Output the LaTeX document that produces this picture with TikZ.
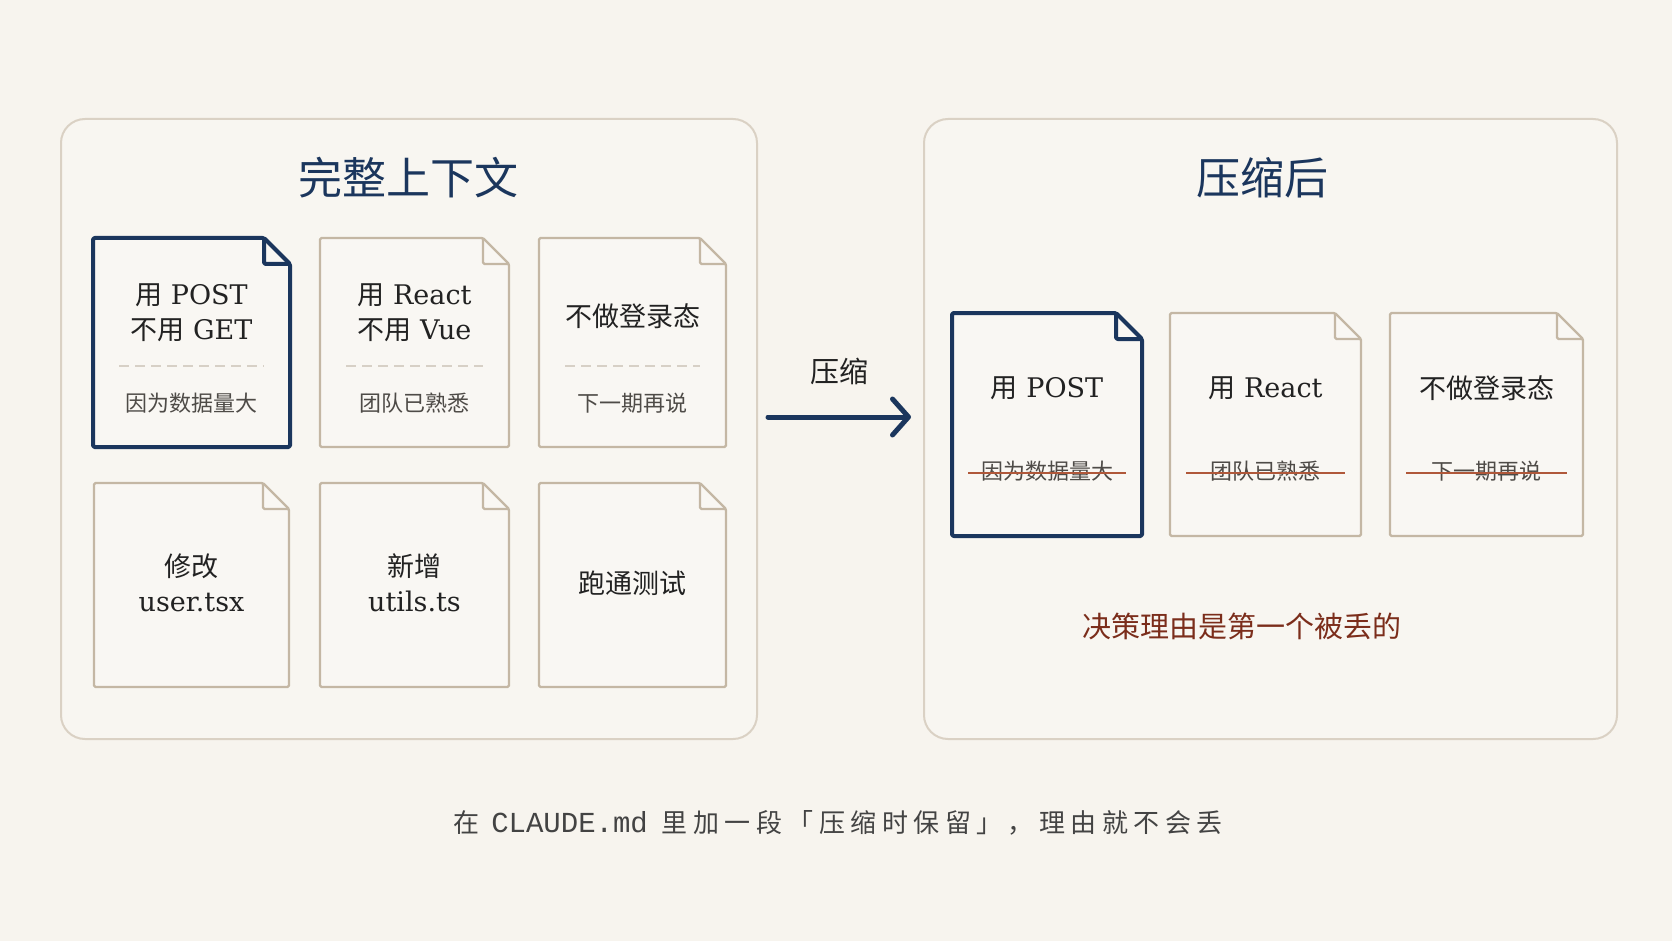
\documentclass[tikz,border=0pt]{standalone}
\usepackage{fontspec}
\setmainfont{DejaVu Serif}
\setmonofont{Liberation Mono}
\newfontfamily\cjk{Noto Sans CJK SC}
\newfontfamily\cjkwide[LetterSpace=21]{Noto Sans CJK SC}
\usetikzlibrary{arrows.meta,positioning}

\definecolor{bgcol}{HTML}{F7F4EE}
\definecolor{panelfill}{HTML}{F8F6F1}
\definecolor{panelline}{HTML}{DAD1C4}
\definecolor{docfill}{HTML}{F9F7F3}
\definecolor{docline}{HTML}{C4B7A4}
\definecolor{navy}{HTML}{1B365D}
\definecolor{inkcol}{HTML}{222222}
\definecolor{subcol}{HTML}{4E4B47}
\definecolor{dashcol}{HTML}{D7D0C6}
\definecolor{strikecol}{HTML}{B0583A}
\definecolor{rustcol}{HTML}{7B2D1B}

\tikzset{
  panel/.style={draw=panelline, line width=2pt, fill=panelfill, rounded corners=24pt, inner sep=0pt, outer sep=0pt},
  slot/.style={inner sep=0pt, outer sep=0pt},
  keydoc/.style={draw=navy, line width=4pt, fill=docfill, line join=round, rounded corners=1.5pt},
  plaindoc/.style={draw=docline, line width=2.4pt, fill=docfill, line join=round, rounded corners=1.5pt},
  heading/.style={text=navy, font=\fontsize{44}{50}\selectfont\cjk},
  maintxt/.style={text=inkcol, align=center, font=\fontsize{27}{35}\selectfont},
  subtxt/.style={text=subcol, font=\fontsize{22}{26}\selectfont\cjk},
  sepline/.style={draw=dashcol, line width=1.3pt, dash pattern=on 10pt off 6pt},
  strike/.style={draw=strikecol, line width=2pt},
  flowarrow/.style={draw=navy, line width=5pt, line cap=round, -{Straight Barb[length=16pt,width=36pt,round]}}
}

\begin{document}
\begin{tikzpicture}[x=1pt, y=-1pt]
  \useasboundingbox (0,0) rectangle (1672,941);
  \fill[bgcol] (0,0) rectangle (1672,941);

  % two panels
  \node[panel, minimum width=696pt, minimum height=620pt] (full) at (409,429) {};
  \node[panel, minimum width=693pt, minimum height=620pt] (packed) at (1270.5,429) {};
  \node[heading] (fullT) at (408,178) {完整上下文};
  \node[heading] (packedT) at (1262,178) {压缩后};

  % doc slots, left panel
  \node[slot, minimum width=197pt, minimum height=209pt] (a1) at (191.5,342.5) {};
  \node[slot, minimum width=189pt, minimum height=209pt] (a2) at (414.5,342.5) {};
  \node[slot, minimum width=187pt, minimum height=209pt] (a3) at (632.5,342.5) {};
  \node[slot, minimum width=195pt, minimum height=204pt] (b1) at (191.5,585) {};
  \node[slot, minimum width=189pt, minimum height=204pt] (b2) at (414.5,585) {};
  \node[slot, minimum width=187pt, minimum height=204pt] (b3) at (632.5,585) {};
  % doc slots, right panel
  \node[slot, minimum width=190pt, minimum height=223pt] (c1) at (1047,424.5) {};
  \node[slot, minimum width=191pt, minimum height=223pt] (c2) at (1265.5,424.5) {};
  \node[slot, minimum width=193pt, minimum height=223pt] (c3) at (1486.5,424.5) {};

  \foreach \d/\s in {a1/keydoc,a2/plaindoc,a3/plaindoc,b1/plaindoc,b2/plaindoc,b3/plaindoc,c1/keydoc,c2/plaindoc,c3/plaindoc} {
    \draw[\s] (\d.north west) -- ([xshift=-26pt]\d.north east) -- ([yshift=-26pt]\d.north east)
      -- (\d.south east) -- (\d.south west) -- cycle;
    \draw[\s, fill=none] ([xshift=-26pt]\d.north east) |- ([yshift=-26pt]\d.north east);
  }

  % full context
  \node[maintxt] (a1t) at ([yshift=30pt]a1.center) {{\cjk 用} POST\\{\cjk 不用} GET};
  \node[maintxt] (a2t) at ([yshift=30pt]a2.center) {{\cjk 用} React\\{\cjk 不用} Vue};
  \node[maintxt] (a3t) at ([yshift=26pt]a3.center) {\cjk 不做登录态};
  \foreach \d in {a1,a2,a3}
    \draw[sepline] ([xshift=26pt,yshift=-23.5pt]\d.west) -- ([xshift=-26pt,yshift=-23.5pt]\d.east);
  \node[subtxt] (a1s) at ([yshift=-60.5pt]a1.center) {因为数据量大};
  \node[subtxt] (a2s) at ([yshift=-60.5pt]a2.center) {团队已熟悉};
  \node[subtxt] (a3s) at ([yshift=-60.5pt]a3.center) {下一期再说};
  \node[maintxt] (b1t) at ([yshift=2.5pt]b1.center) {{\cjk 修改}\\user.tsx};
  \node[maintxt] (b2t) at ([yshift=2.5pt]b2.center) {{\cjk 新增}\\utils.ts};
  \node[maintxt] (b3t) at ([yshift=2pt]b3.center) {\cjk 跑通测试};

  % compressed
  \node[maintxt] (c1t) at ([yshift=36.5pt]c1.center) {{\cjk 用} POST};
  \node[maintxt] (c2t) at ([yshift=36.5pt]c2.center) {{\cjk 用} React};
  \node[maintxt] (c3t) at ([yshift=36.5pt]c3.center) {\cjk 不做登录态};
  \node[subtxt] (c1s) at ([yshift=-46.5pt]c1.center) {因为数据量大};
  \node[subtxt] (c2s) at ([yshift=-46.5pt]c2.center) {团队已熟悉};
  \node[subtxt] (c3s) at ([yshift=-46.5pt]c3.center) {下一期再说};
  \foreach \d in {c1,c2,c3}
    \draw[strike] ([xshift=16pt,yshift=-48.5pt]\d.west) -- ([xshift=-16pt,yshift=-48.5pt]\d.east);
  \node[text=rustcol, font=\fontsize{29}{33}\selectfont\cjk] (lost) at (1242,626) {决策理由是第一个被丢的};

  % arrow between panels
  \draw[flowarrow] ([xshift=11pt,yshift=12pt]full.east) -- ([xshift=-13pt,yshift=12pt]packed.west)
    node[midway, above=26pt, text=inkcol, font=\fontsize{29}{33}\selectfont\cjk] (zipT) {压缩};

  \node[text=inkcol!85, font=\fontsize{26}{30}\selectfont] (note) at (838,823)
    {{\cjkwide 在}\hspace{12pt}{\ttfamily\fontsize{29}{30}\selectfont CLAUDE.md}\hspace{14pt}{\cjkwide 里加一段「压缩时保留」，理由就不会丢}};
\end{tikzpicture}
\end{document}
